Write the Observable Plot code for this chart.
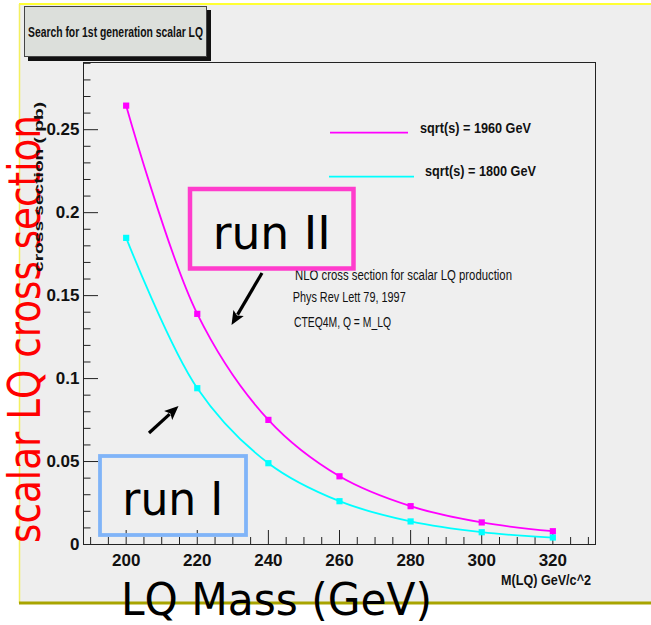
<!DOCTYPE html>
<html><head><meta charset="utf-8">
<script src="https://cdn.jsdelivr.net/npm/d3@7"></script>
<script src="https://cdn.jsdelivr.net/npm/@observablehq/plot@0.6"></script>
<style>
body{margin:0;background:#ffffff;}
#wrap{position:relative;width:651px;height:625px;}
</style>
</head><body><div id="wrap"></div>
<script>
// ---- data ----
const masses = [200, 220, 240, 260, 280, 300, 320];
const xsec1960 = [0.2645, 0.139, 0.0751, 0.0411, 0.0231, 0.0133, 0.0080];
const xsec1800 = [0.1848, 0.0942, 0.0490, 0.0261, 0.0139, 0.0074, 0.0042];
const seriesNames = ["sqrt(s) = 1960 GeV", "sqrt(s) = 1800 GeV"];
const seriesColors = ["#ff00ff", "#00ffff"];
const xTickValues = [200, 220, 240, 260, 280, 300, 320];
const xTickLabels = ["200", "220", "240", "260", "280", "300", "320"];
const xMinorTicks = [190, 195, 205, 210, 215, 225, 230, 235, 245, 250, 255, 265, 270, 275, 285, 290, 295, 305, 310, 315, 325, 330];
const yTickValues = [0, 0.05, 0.1, 0.15, 0.2, 0.25];
const yTickLabels = ["0", "0.05", "0.1", "0.15", "0.2", "0.25"];
const yMinorTicks = [0.01, 0.02, 0.03, 0.04, 0.06, 0.07, 0.08, 0.09, 0.11, 0.12, 0.13, 0.14, 0.16, 0.17, 0.18, 0.19, 0.21, 0.22, 0.23, 0.24, 0.26, 0.27, 0.28, 0.29];
const xDomain = [188, 332];
const yDomain = [0, 0.2905];
const titleText = "Search for 1st generation scalar LQ";
const xAxisTitle = "M(LQ) GeV/c^2";
const yAxisTitle = "cross section ( pb)";
const noteLines = ["NLO cross section for scalar LQ production", "Phys Rev Lett 79, 1997", "CTEQ4M, Q = M_LQ"];
const bigYLabel = "scalar LQ cross section";
const bigXLabel = "LQ Mass (GeV)";
const runLabels = ["run II", "run I"];

const rows = [];
masses.forEach((m, i) => {
  rows.push({mass: m, xs: xsec1960[i], series: seriesNames[0]});
});
masses.forEach((m, i) => {
  rows.push({mass: m, xs: xsec1800[i], series: seriesNames[1]});
});

// ---- layout ----
const W = 651, H = 625, mL = 83, mR = 56, mT = 62, mB = 81;
const pw = W - mL - mR, ph = H - mT - mB;
const narrow = "'Liberation Sans Narrow','Liberation Sans',Arial,sans-serif";
const big = "'DejaVu Sans',Verdana,sans-serif";

const chart = Plot.plot({
  width: W, height: H,
  marginLeft: mL, marginRight: mR, marginTop: mT, marginBottom: mB,
  style: {background: "transparent", overflow: "visible"},
  x: {domain: xDomain},
  y: {domain: yDomain},
  color: {domain: seriesNames, range: seriesColors},
  marks: [
    Plot.frame({fill: "#efefef", stroke: null}),
    Plot.tickX(xMinorTicks, {x: d => d, insetTop: ph - 7, stroke: "#222"}),
    Plot.tickX(xTickValues, {x: d => d, insetTop: ph - 14, stroke: "#222"}),
    Plot.tickY(yMinorTicks, {y: d => d, insetRight: pw - 7.5, stroke: "#222"}),
    Plot.tickY(yTickValues, {y: d => d, insetRight: pw - 15, stroke: "#222"}),
    Plot.axisX({ticks: xTickValues, tickFormat: d => xTickLabels[xTickValues.indexOf(d)],
      tickSize: 0, tickPadding: 9, fontSize: 17, fontWeight: "bold", fontFamily: narrow, fill: "#111", label: null}),
    Plot.axisY({ticks: yTickValues, tickFormat: d => yTickLabels[yTickValues.indexOf(d)],
      tickSize: 0, tickPadding: 4, fontSize: 17, fontWeight: "bold", fontFamily: narrow, fill: "#111", label: null}),
    Plot.line(rows, {x: "mass", y: "xs", z: "series", stroke: "series", strokeWidth: 1.8, curve: "catmull-rom"}),
    Plot.dot(rows, {x: "mass", y: "xs", fill: "series", symbol: "square", r: 3.5, stroke: null}),
    Plot.frame({stroke: "#222"})
  ]
});

document.getElementById("wrap").appendChild(chart);
const svg = d3.select(chart);

// background panel (behind everything)
const bg = svg.insert("g", ":first-child").attr("text-anchor", "start");
bg.append("rect").attr("x", 19).attr("y", 4).attr("width", 632).attr("height", 599).attr("fill", "#eeeeee");
bg.append("line").attr("x1", 19).attr("x2", 651).attr("y1", 4).attr("y2", 4).attr("stroke", "#ffff33").attr("stroke-width", 2);
bg.append("line").attr("x1", 19.5).attr("x2", 19.5).attr("y1", 4).attr("y2", 603).attr("stroke", "#f4f060").attr("stroke-width", 1.5);
bg.append("line").attr("x1", 19).attr("x2", 651).attr("y1", 603).attr("y2", 603).attr("stroke", "#a8a400").attr("stroke-width", 3);

// title box
bg.append("rect").attr("x", 28).attr("y", 10).attr("width", 183).attr("height", 51).attr("fill", "#111");
bg.append("rect").attr("x", 24.5).attr("y", 6.5).attr("width", 182).attr("height", 50).attr("fill", "#dcdfdb").attr("stroke", "#444").attr("stroke-width", 1);
bg.append("text").attr("x", 28).attr("y", 37.3).attr("text-anchor", "start").attr("font-family", narrow).attr("font-size", 15).attr("font-weight", "bold")
  .attr("fill", "#111").attr("textLength", 175).attr("lengthAdjust", "spacingAndGlyphs").text(titleText);

// foreground annotations
const fg = svg.append("g").attr("text-anchor", "start");
// legend
fg.append("line").attr("x1", 330).attr("x2", 408).attr("y1", 132.7).attr("y2", 132.7).attr("stroke", seriesColors[0]).attr("stroke-width", 1.8);
fg.append("text").attr("x", 420).attr("y", 132.7).attr("text-anchor", "start").attr("font-family", narrow).attr("font-size", 15).attr("font-weight", "bold")
  .attr("fill", "#111").attr("textLength", 111).attr("lengthAdjust", "spacingAndGlyphs").text(seriesNames[0]);
fg.append("line").attr("x1", 329).attr("x2", 414).attr("y1", 176.7).attr("y2", 176.7).attr("stroke", seriesColors[1]).attr("stroke-width", 1.8);
fg.append("text").attr("x", 425).attr("y", 176).attr("text-anchor", "start").attr("font-family", narrow).attr("font-size", 15).attr("font-weight", "bold")
  .attr("fill", "#111").attr("textLength", 111).attr("lengthAdjust", "spacingAndGlyphs").text(seriesNames[1]);

// notes
const notePos = [[295, 280, 217], [292.7, 301.7, 113], [294, 326.5, 97]];
noteLines.forEach((t, i) => {
  fg.append("text").attr("x", notePos[i][0]).attr("y", notePos[i][1]).attr("text-anchor", "start").attr("font-family", narrow).attr("font-size", 14)
    .attr("fill", "#111").attr("textLength", notePos[i][2]).attr("lengthAdjust", "spacingAndGlyphs").text(t);
});

// x axis title
fg.append("text").attr("x", 501).attr("y", 585).attr("text-anchor", "start").attr("font-family", narrow).attr("font-size", 14)
  .attr("font-weight", "bold").attr("fill", "#111").attr("textLength", 90).attr("lengthAdjust", "spacingAndGlyphs").text(xAxisTitle);

// run boxes
fg.append("rect").attr("x", 190).attr("y", 189).attr("width", 163.5).attr("height", 79.5).attr("fill", "none").attr("stroke", "#ff3ccc").attr("stroke-width", 4.5);
fg.append("text").attr("x", 212.7).attr("y", 249).attr("text-anchor", "start").attr("font-family", big).attr("font-size", 46).attr("fill", "#000")
  .attr("textLength", 118).attr("lengthAdjust", "spacingAndGlyphs").text(runLabels[0]);
fg.append("rect").attr("x", 100).attr("y", 456).attr("width", 146).attr("height", 79).attr("fill", "none").attr("stroke", "#80b4f8").attr("stroke-width", 3.8);
fg.append("text").attr("x", 122.3).attr("y", 515).attr("text-anchor", "start").attr("font-family", big).attr("font-size", 46).attr("fill", "#000")
  .attr("textLength", 101).attr("lengthAdjust", "spacingAndGlyphs").text(runLabels[1]);

// arrows
function arrow(x1, y1, x2, y2) {
  const dx = x2 - x1, dy = y2 - y1, L = Math.hypot(dx, dy);
  const ux = dx / L, uy = dy / L, hl = 14, hw = 6;
  const bx = x2 - ux * hl, by = y2 - uy * hl;
  fg.append("line").attr("x1", x1).attr("y1", y1).attr("x2", bx + ux * 2).attr("y2", by + uy * 2).attr("stroke", "#000").attr("stroke-width", 3.2);
  fg.append("path").attr("d", `M${x2},${y2}L${bx - uy * hw},${by + ux * hw}L${bx + ux * 3},${by + uy * 3}L${bx + uy * hw},${by - ux * hw}Z`).attr("fill", "#000");
}
arrow(262, 273, 231.5, 325);
arrow(149, 433, 178.5, 406);

// big presentation labels
fg.append("text").attr("transform", "translate(39.5,329) rotate(-90)").attr("text-anchor", "middle").attr("font-family", big)
  .attr("font-size", 44).attr("fill", "#ff0000").attr("textLength", 428).attr("lengthAdjust", "spacingAndGlyphs").text(bigYLabel);
fg.append("text").attr("x", 121).attr("y", 615).attr("text-anchor", "start").attr("font-family", big).attr("font-size", 45).attr("fill", "#000")
  .attr("textLength", 311).attr("lengthAdjust", "spacingAndGlyphs").text(bigXLabel);

// y axis title drawn over the red label
fg.append("text").attr("transform", "translate(42.5,272) rotate(-90)").attr("text-anchor", "start").attr("font-family", narrow).attr("font-size", 12)
  .attr("font-weight", "bold").attr("fill", "#111").attr("textLength", 170).attr("lengthAdjust", "spacingAndGlyphs").text(yAxisTitle);
</script>
</body></html>
